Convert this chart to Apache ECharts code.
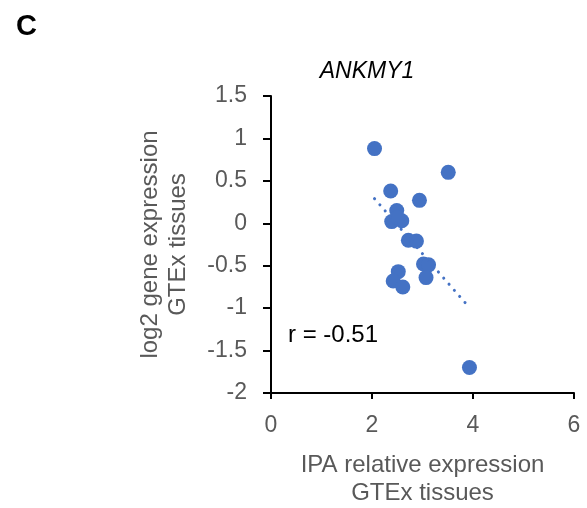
<!DOCTYPE html>
<html>
<head>
<meta charset="utf-8">
<script src="https://cdn.jsdelivr.net/npm/echarts@6/dist/echarts.min.js"></script>
<style>
  html, body { margin: 0; padding: 0; background: #fff; }
  #chart { width: 587px; height: 508px; }
</style>
</head>
<body>
<div id="chart"></div>
<script>
// IPA relative expression (x) vs log2 gene expression (y)
const ipaExpr = [2.05, 3.51, 2.37, 2.94, 2.49, 2.39, 2.59, 2.50, 2.72, 2.88, 3.02, 3.12, 3.07, 2.52, 2.42, 2.61, 3.93]
const geneExpr = [0.88, 0.60, 0.38, 0.27, 0.15, 0.02, 0.03, 0.07, -0.20, -0.21, -0.48, -0.49, -0.64, -0.57, -0.68, -0.75, -1.70]
// linear trendline end points
const trendX = [2.05, 3.88]
const trendY = [0.29, -0.96]

const chart = echarts.init(document.getElementById('chart'))
const labelColor = '#595959'
const font = 'Liberation Sans, Arial, sans-serif'

const option = {
  animation: false,
  grid: { left: 271, right: 13, top: 96, bottom: 115, outerBoundsMode: 'none' },
  title: [
    {
      text: 'C',
      left: 11, top: 7,
      textStyle: { fontFamily: font, fontSize: 29, fontWeight: 'bold', color: '#000' }
    },
    {
      text: 'ANKMY1',
      left: 362, top: 55, textAlign: 'center',
      textStyle: { fontFamily: font, fontSize: 23, fontStyle: 'italic', fontWeight: 'normal', color: '#000' }
    }
  ],
  graphic: [
    {
      type: 'text',
      left: 288, top: 323,
      style: { text: 'r = -0.51', fontFamily: font, fontSize: 24, fill: '#000' }
    }
  ],
  xAxis: {
    type: 'value',
    min: 0, max: 6, interval: 2,
    name: 'IPA relative expression\nGTEx tissues',
    nameLocation: 'middle',
    nameGap: 58,
    nameTextStyle: { fontFamily: font, fontSize: 24, color: labelColor, lineHeight: 28, verticalAlign: 'top' },
    axisLine: { onZero: false, lineStyle: { color: '#000', width: 2 } },
    axisTick: { show: true, length: 6, lineStyle: { color: '#000', width: 2 } },
    axisLabel: { fontFamily: font, fontSize: 23, color: labelColor, margin: 21 },
    splitLine: { show: false }
  },
  yAxis: {
    type: 'value',
    min: -2, max: 1.5, interval: 0.5,
    name: 'log2 gene expression\nGTEx tissues',
    nameLocation: 'middle',
    nameRotate: 90,
    nameGap: 79,
    nameTextStyle: { fontFamily: font, fontSize: 24, color: labelColor, lineHeight: 28 },
    axisLine: { show: true, onZero: false, lineStyle: { color: '#000', width: 2 } },
    axisTick: { show: true, length: 8, lineStyle: { color: '#000', width: 2 } },
    axisLabel: { fontFamily: font, fontSize: 23, color: labelColor, margin: 24 },
    splitLine: { show: false }
  },
  series: [
    {
      type: 'scatter',
      symbolSize: 15,
      itemStyle: { color: '#4472C4', opacity: 1 },
      data: ipaExpr.map((x, i) => [x, geneExpr[i]])
    },
    {
      type: 'line',
      symbol: 'none',
      silent: true,
      z: 3,
      lineStyle: { color: '#4472C4', width: 3, type: [0.1, 8], cap: 'round' },
      data: trendX.map((x, i) => [x, trendY[i]])
    }
  ]
}
chart.setOption(option)
</script>
</body>
</html>
